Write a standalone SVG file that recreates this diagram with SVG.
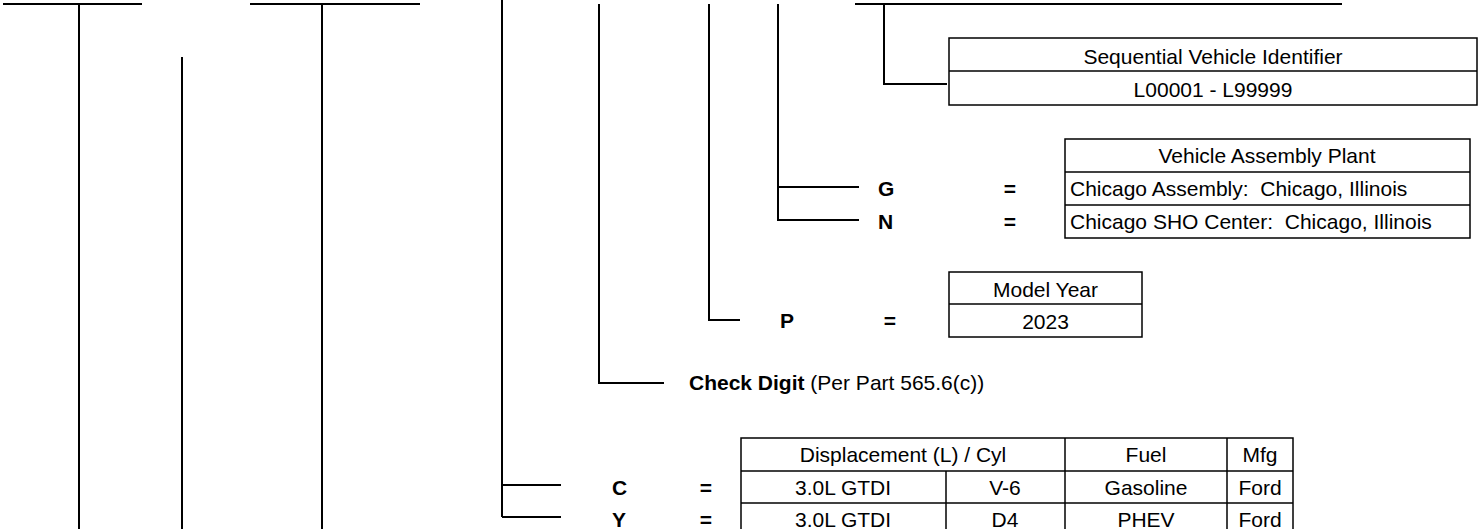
<svg xmlns="http://www.w3.org/2000/svg" width="1480" height="529" viewBox="0 0 1480 529">
<style>
.ln{stroke:#000;stroke-width:2;fill:none}
.bx{stroke:#000;stroke-width:1.5;fill:#fff}
.dv{stroke:#000;stroke-width:1.5}
.t{font-family:"Liberation Sans",Arial,sans-serif;font-size:21px;fill:#000}
.c{text-anchor:middle}
.b{font-weight:bold}
.pre{white-space:pre}
</style>
<rect width="1480" height="529" fill="#fff"/>
<g id="connectors">
<path class="ln" d="M3,4H142M79,4V529"/>
<path class="ln" d="M182,57V529"/>
<path class="ln" d="M250,4H420M322,4V529"/>
<path class="ln" d="M502,0V517M502,485H561M502,517H561"/>
<path class="ln" d="M599,4V383H664"/>
<path class="ln" d="M709,4V320H740"/>
<path class="ln" d="M778,4V220H859M778,187H859"/>
<path class="ln" d="M855,4H1342M884,4V84H947"/>
</g>
<g id="sequential-box">
<rect class="bx" x="949" y="38" width="528" height="67"/>
<line class="dv" x1="949" y1="71" x2="1477" y2="71"/>
<text class="t c" x="1213" y="64">Sequential Vehicle Identifier</text>
<text class="t c" x="1213" y="97">L00001 - L99999</text>
</g>
<g id="plant-box">
<rect class="bx" x="1065" y="139" width="405" height="99"/>
<line class="dv" x1="1065" y1="172" x2="1470" y2="172"/>
<line class="dv" x1="1065" y1="205" x2="1470" y2="205"/>
<text class="t c" x="1267" y="163">Vehicle Assembly Plant</text>
<text class="t pre" x="1070" y="196" xml:space="preserve">Chicago Assembly:  Chicago, Illinois</text>
<text class="t pre" x="1070" y="229" xml:space="preserve">Chicago SHO Center:  Chicago, Illinois</text>
</g>
<g id="plant-codes">
<text class="t b" x="878" y="196">G</text>
<text class="t b c" x="1010" y="196">=</text>
<text class="t b" x="878" y="229">N</text>
<text class="t b c" x="1010" y="229">=</text>
</g>
<g id="model-year-box">
<rect class="bx" x="949" y="272" width="193" height="65"/>
<line class="dv" x1="949" y1="304" x2="1142" y2="304"/>
<text class="t c" x="1045.5" y="297">Model Year</text>
<text class="t c" x="1045.5" y="329">2023</text>
</g>
<g id="model-year-code">
<text class="t b" x="780" y="328">P</text>
<text class="t b c" x="890" y="328">=</text>
</g>
<g id="check-digit">
<text class="t" x="689" y="390"><tspan class="b">Check Digit</tspan> (Per Part 565.6(c))</text>
</g>
<g id="engine-table">
<rect class="bx" x="741" y="438" width="552" height="100"/>
<line class="dv" x1="741" y1="471" x2="1293" y2="471"/>
<line class="dv" x1="741" y1="503" x2="1293" y2="503"/>
<line class="dv" x1="946" y1="471" x2="946" y2="538"/>
<line class="dv" x1="1065" y1="438" x2="1065" y2="538"/>
<line class="dv" x1="1227" y1="438" x2="1227" y2="538"/>
<text class="t c" x="903" y="462">Displacement (L) / Cyl</text>
<text class="t c" x="1146" y="462">Fuel</text>
<text class="t c" x="1260" y="462">Mfg</text>
<text class="t c" x="843" y="495">3.0L GTDI</text>
<text class="t c" x="1005" y="495">V-6</text>
<text class="t c" x="1146" y="495">Gasoline</text>
<text class="t c" x="1260" y="495">Ford</text>
<text class="t c" x="843" y="527">3.0L GTDI</text>
<text class="t c" x="1005" y="527">D4</text>
<text class="t c" x="1146" y="527">PHEV</text>
<text class="t c" x="1260" y="527">Ford</text>
</g>
<g id="engine-codes">
<text class="t b" x="612" y="495">C</text>
<text class="t b c" x="706" y="495">=</text>
<text class="t b" x="612" y="527">Y</text>
<text class="t b c" x="706" y="527">=</text>
</g>
</svg>
